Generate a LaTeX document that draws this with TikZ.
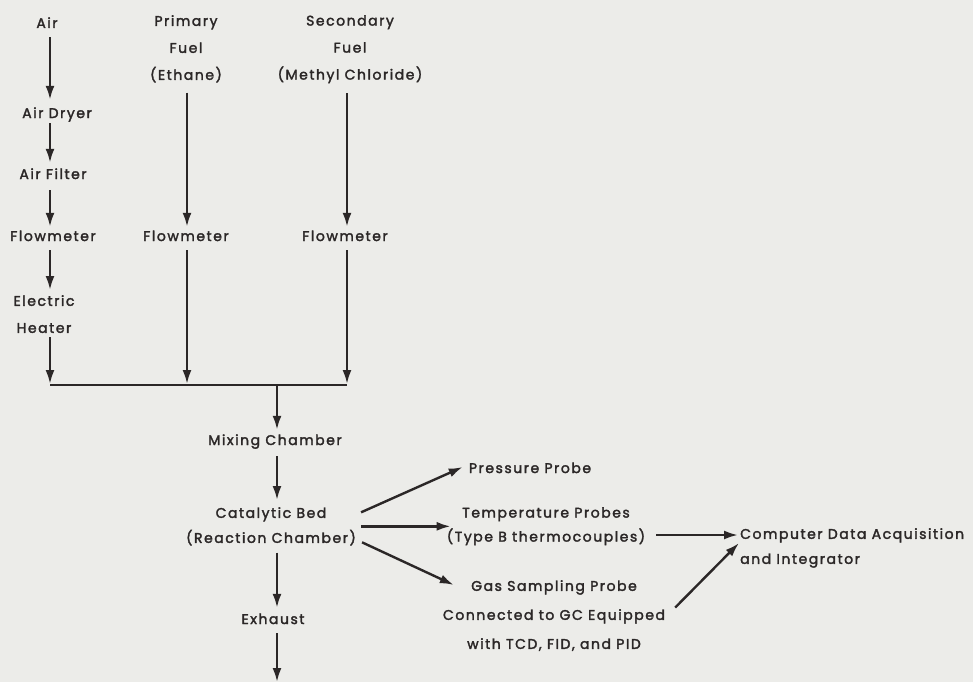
\documentclass[tikz,border=0pt]{standalone}
\usepackage{fontspec}
\setmainfont{Poppins}[LetterSpace=11, FakeBold=2.2]
\usetikzlibrary{arrows.meta,calc}
\definecolor{bg}{HTML}{ECECE9}
\definecolor{ink}{HTML}{2B2727}
\begin{document}
\begin{tikzpicture}[x=1pt,y=-1pt,
  lbl/.style={font=\fontsize{14}{27}\selectfont, text=ink, inner sep=0pt, anchor=base, text height=11pt, text depth=3pt},
  multi/.style={font=\fontsize{14}{#1}\selectfont, text=ink, inner sep=0pt, align=center, anchor=north},
  flow/.style={draw=ink, line width=2.4pt, -{Latex[length=14pt,width=9pt]}},
  pipe/.style={draw=ink, line width=2.4pt}]
\fill[bg] (0,0) rectangle (973,682);
\useasboundingbox (0,0) rectangle (973,682);
% column coordinates
\coordinate (colA) at (50,0);
\coordinate (colB) at (187,0);
\coordinate (colC) at (347,0);
\coordinate (colM) at (277,0);
% nodes
\node[lbl] (air) at (47,28) {Air};
\node[lbl] (dryer) at (57,118) {Air Dryer};
\node[lbl] (filter) at (53,179) {Air Filter};
\node[lbl] (fm1) at (53,241) {Flowmeter};
\node[multi=27] (heater) at (44,295) {Electric\\Heater};
\node[multi=27] (primary) at (186,15) {Primary\\Fuel\\(Ethane)};
\node[multi=27] (secondary) at (350,15) {Secondary\\Fuel\\(Methyl Chloride)};
\node[lbl] (fm2) at (186,241) {Flowmeter};
\node[lbl] (fm3) at (345,241) {Flowmeter};
\node[lbl] (mixing) at (275,445) {Mixing Chamber};
\node[multi=25] (catalytic) at (271,507) {Catalytic Bed\\(Reaction Chamber)};
\node[lbl] (exhaust) at (273,624) {Exhaust};
\node[lbl] (pressure) at (530,473) {Pressure Probe};
\node[multi=24] (temp) at (546,507) {Temperature Probes\\(Type B thermocouples)};
\node[multi=29] (gas) at (554,580) {Gas Sampling Probe\\Connected to GC Equipped\\with TCD, FID, and PID};
\node[multi=25, align=left, anchor=north west] (computer) at (740,528) {Computer Data Acquisition\\and Integrator};
% junction coordinates
\coordinate (j1) at (50,385);
\coordinate (j2) at (187,385);
\coordinate (j3) at (347,385);
\coordinate (jm) at (277,385);
\coordinate (out) at (277,682);
% air column
\draw[flow, shorten <=6pt, shorten >=7pt] (air.south -| colA) -- (dryer.north -| colA);
\draw[flow, shorten <=2pt, shorten >=5pt] (dryer.south -| colA) -- (filter.north -| colA);
\draw[flow, shorten <=8pt, shorten >=3pt] (filter.south -| colA) -- (fm1.north -| colA);
\draw[flow, shorten <=6pt, shorten >=5pt] (fm1.south -| colA) -- (heater.north -| colA);
\draw[flow, shorten <=4pt, shorten >=1pt] (heater.south -| colA) -- (j1);
% primary fuel column
\draw[flow, shorten <=10pt, shorten >=3pt] (primary.south -| colB) -- (fm2.north -| colB);
\draw[flow, shorten <=6pt, shorten >=1pt] (fm2.south -| colB) -- (j2);
% secondary fuel column
\draw[flow, shorten <=10pt, shorten >=3pt] (secondary.south -| colC) -- (fm3.north -| colC);
\draw[flow, shorten <=6pt, shorten >=1pt] (fm3.south -| colC) -- (j3);
% manifold
\draw[pipe] (j1) -- (j3);
\draw[flow, shorten >=4pt] (jm) -- (mixing.north -| colM);
\draw[flow, shorten <=8pt, shorten >=7pt] (mixing.south -| colM) -- (catalytic.north -| colM);
\draw[flow, shorten <=7pt, shorten >=5pt] (catalytic.south -| colM) -- (exhaust.north -| colM);
\draw[flow, shorten <=6pt] (exhaust.south -| colM) -- (out);
% probes
\draw[flow] ($(catalytic.east)+(5,-14)$) -- ($(pressure.west)+(-6,-2)$);
\draw[flow] ($(catalytic.east)+(5,0)$) -- ($(catalytic.east -| temp.west)+(4,0)$);
\draw[flow] ($(catalytic.east)+(6,16)$) -- ($(gas.north west)+(11,5)$);
% to computer
\coordinate (cin) at ($(computer.north west)+(-2,7)$);
\draw[flow] ($(temp.east |- cin)+(11,0)$) -- (cin);
\draw[flow] ($(gas.east)+(10,-8)$) -- ($(computer.north west)+(-1,15)$);
\end{tikzpicture}
\end{document}
